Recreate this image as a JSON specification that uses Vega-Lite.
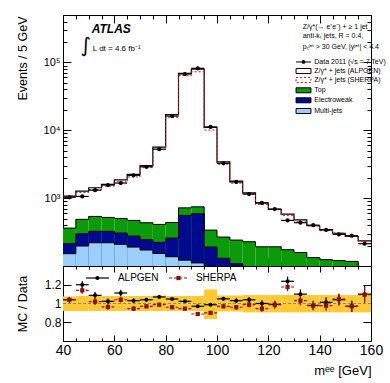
{
  "$schema": "https://vega.github.io/schema/vega-lite/v6.json",
  "padding": {"left": 15, "top": 14, "right": 0, "bottom": 0},
  "config": {
    "view": {"stroke": "black", "strokeWidth": 1},
    "font": "Liberation Sans",
    "axis": {"grid": false, "domain": false, "tickColor": "black", "tickWidth": 1, "labelColor": "black", "titleColor": "black", "labelFont": "Liberation Sans", "titleFont": "Liberation Sans", "titleFontWeight": "normal"}
  },
  "datasets": {
    "bins": [
      {"lo":40,"hi":45,"m":42.5,"data":1030,"alpgen":1071,"sherpa":1071,"multijet":152,"ew":213,"top":362,"rA":1.04,"eA":0.03,"rS":1.04,"eS":0.03,"bandLo":0.92,"bandHi":1.075},
      {"lo":45,"hi":50,"m":47.5,"data":1060,"alpgen":1272,"sherpa":1208,"multijet":197,"ew":298,"top":487,"rA":1.2,"eA":0.04,"rS":1.14,"eS":0.035,"bandLo":0.92,"bandHi":1.08},
      {"lo":50,"hi":55,"m":52.5,"data":1310,"alpgen":1424,"sherpa":1336,"multijet":220,"ew":324,"top":538,"rA":1.087,"eA":0.035,"rS":1.02,"eS":0.035,"bandLo":0.92,"bandHi":1.08},
      {"lo":55,"hi":60,"m":57.5,"data":1560,"alpgen":1596,"sherpa":1502,"multijet":220,"ew":324,"top":520,"rA":1.023,"eA":0.03,"rS":0.963,"eS":0.03,"bandLo":0.92,"bandHi":1.08},
      {"lo":60,"hi":65,"m":62.5,"data":1670,"alpgen":1857,"sherpa":1737,"multijet":209,"ew":306,"top":502,"rA":1.112,"eA":0.035,"rS":1.04,"eS":0.03,"bandLo":0.92,"bandHi":1.08},
      {"lo":65,"hi":70,"m":67.5,"data":2170,"alpgen":2235,"sherpa":2051,"multijet":190,"ew":276,"top":470,"rA":1.03,"eA":0.025,"rS":0.945,"eS":0.025,"bandLo":0.92,"bandHi":1.08},
      {"lo":70,"hi":75,"m":72.5,"data":2900,"alpgen":3016,"sherpa":2813,"multijet":172,"ew":244,"top":434,"rA":1.04,"eA":0.02,"rS":0.97,"eS":0.02,"bandLo":0.92,"bandHi":1.08},
      {"lo":75,"hi":80,"m":77.5,"data":5270,"alpgen":5639,"sherpa":5201,"multijet":153,"ew":223,"top":410,"rA":1.07,"eA":0.015,"rS":0.987,"eS":0.015,"bandLo":0.92,"bandHi":1.085},
      {"lo":80,"hi":85,"m":82.5,"data":16200,"alpgen":16978,"sherpa":15552,"multijet":137,"ew":258,"top":438,"rA":1.048,"eA":0.01,"rS":0.96,"eS":0.01,"bandLo":0.92,"bandHi":1.08},
      {"lo":85,"hi":90,"m":87.5,"data":67500,"alpgen":69053,"sherpa":63788,"multijet":122,"ew":556,"top":719,"rA":1.023,"eA":0.006,"rS":0.945,"eS":0.006,"bandLo":0.92,"bandHi":1.08},
      {"lo":90,"hi":95,"m":92.5,"data":82000,"alpgen":79540,"sherpa":72816,"multijet":111,"ew":588,"top":745,"rA":0.97,"eA":0.006,"rS":0.888,"eS":0.006,"bandLo":0.92,"bandHi":1.08},
      {"lo":95,"hi":100,"m":97.5,"data":11200,"alpgen":11054,"sherpa":10080,"multijet":99,"ew":190,"top":338,"rA":0.987,"eA":0.01,"rS":0.9,"eS":0.01,"bandLo":0.835,"bandHi":1.15},
      {"lo":100,"hi":105,"m":102.5,"data":3260,"alpgen":3423,"sherpa":3162,"multijet":80,"ew":130,"top":267,"rA":1.05,"eA":0.02,"rS":0.97,"eS":0.02,"bandLo":0.915,"bandHi":1.085},
      {"lo":105,"hi":110,"m":107.5,"data":1730,"alpgen":1782,"sherpa":1661,"multijet":70,"ew":108,"top":241,"rA":1.03,"eA":0.025,"rS":0.96,"eS":0.025,"bandLo":0.915,"bandHi":1.085},
      {"lo":110,"hi":115,"m":112.5,"data":1150,"alpgen":1196,"sherpa":1135,"multijet":60,"ew":92,"top":228,"rA":1.04,"eA":0.03,"rS":0.987,"eS":0.03,"bandLo":0.905,"bandHi":1.09},
      {"lo":115,"hi":120,"m":117.5,"data":850,"alpgen":850,"sherpa":803,"multijet":50,"ew":80,"top":192,"rA":1.0,"eA":0.035,"rS":0.945,"eS":0.035,"bandLo":0.905,"bandHi":1.09},
      {"lo":120,"hi":125,"m":122.5,"data":690,"alpgen":683,"sherpa":681,"multijet":45,"ew":70,"top":192,"rA":0.99,"eA":0.04,"rS":0.987,"eS":0.04,"bandLo":0.905,"bandHi":1.09},
      {"lo":125,"hi":130,"m":127.5,"data":470,"alpgen":581,"sherpa":553,"multijet":40,"ew":65,"top":174,"rA":1.237,"eA":0.05,"rS":1.176,"eS":0.045,"bandLo":0.905,"bandHi":1.09},
      {"lo":130,"hi":135,"m":132.5,"data":435,"alpgen":479,"sherpa":448,"multijet":35,"ew":60,"top":158,"rA":1.1,"eA":0.05,"rS":1.03,"eS":0.05,"bandLo":0.905,"bandHi":1.09},
      {"lo":135,"hi":140,"m":137.5,"data":400,"alpgen":392,"sherpa":391,"multijet":30,"ew":55,"top":133,"rA":0.98,"eA":0.05,"rS":0.977,"eS":0.05,"bandLo":0.905,"bandHi":1.09},
      {"lo":140,"hi":145,"m":142.5,"data":340,"alpgen":344,"sherpa":332,"multijet":28,"ew":50,"top":124,"rA":1.013,"eA":0.055,"rS":0.977,"eS":0.055,"bandLo":0.905,"bandHi":1.09},
      {"lo":145,"hi":150,"m":147.5,"data":292,"alpgen":304,"sherpa":306,"multijet":25,"ew":45,"top":120,"rA":1.04,"eA":0.06,"rS":1.048,"eS":0.06,"bandLo":0.905,"bandHi":1.09},
      {"lo":150,"hi":155,"m":152.5,"data":280,"alpgen":272,"sherpa":272,"multijet":22,"ew":40,"top":117,"rA":0.97,"eA":0.06,"rS":0.97,"eS":0.06,"bandLo":0.905,"bandHi":1.09},
      {"lo":155,"hi":160,"m":157.5,"data":213,"alpgen":234,"sherpa":233,"multijet":20,"ew":35,"top":95,"rA":1.1,"eA":0.09,"rS":1.094,"eS":0.08,"bandLo":0.905,"bandHi":1.09}
    ]
  },
  "data": {"name": "bins"},
  "spacing": 0,
  "bounds": "flush",
  "vconcat": [
    {
      "width": 308,
      "height": 251,
      "resolve": {"axis": {"x": "independent", "y": "independent"}},
      "layer": [
        {
          "mark": {"type": "rect", "clip": true, "fill": "#0a9a0a"},
          "encoding": {
            "x": {"field": "lo", "type": "quantitative", "scale": {"domain": [40, 160], "nice": false, "zero": false},
                  "axis": {"orient": "bottom", "values": [40,60,80,100,120,140,160], "labels": false, "domain": false, "tickSize": -8, "title": null}},
            "x2": {"field": "hi"},
            "y": {"field": "top", "type": "quantitative", "scale": {"type": "log", "domain": [100, 500000], "nice": false},
                  "axis": {"orient": "left", "values": [1000,10000,100000], "labelExpr": "datum.value == 1000 ? '10³' : datum.value == 10000 ? '10⁴' : '10⁵'", "ticks": false, "domain": false, "labelPadding": 3, "labelFontSize": 11, "title": "Events / 5 GeV", "titleX": -41, "titleY": 1, "titleAlign": "right", "titleAngle": 270, "titleBaseline": "middle", "titleFontSize": 12.5}},
            "y2": {"datum": 10}
          }
        },
        {
          "mark": {"type": "rect", "clip": true, "fill": "#000a8f"},
          "encoding": {
            "x": {"field": "lo", "type": "quantitative",
                  "axis": {"orient": "bottom", "values": [45,50,55,65,70,75,85,90,95,105,110,115,125,130,135,145,150,155], "labels": false, "domain": false, "tickSize": -4, "title": null}},
            "x2": {"field": "hi"},
            "y": {"field": "ew", "type": "quantitative",
                  "axis": {"orient": "left", "values": [1000,10000,100000], "labels": false, "domain": false, "tickSize": -8, "title": null}},
            "y2": {"datum": 10}
          }
        },
        {
          "mark": {"type": "rect", "clip": true, "fill": "#9ccffb"},
          "encoding": {
            "x": {"field": "lo", "type": "quantitative",
                  "axis": {"orient": "top", "values": [40,60,80,100,120,140,160], "labels": false, "domain": false, "tickSize": -8, "title": null}},
            "x2": {"field": "hi"},
            "y": {"field": "multijet", "type": "quantitative",
                  "axis": {"orient": "left", "values": [200,300,400,500,600,700,800,900,2000,3000,4000,5000,6000,7000,8000,9000,20000,30000,40000,50000,60000,70000,80000,90000,200000,300000,400000], "labels": false, "domain": false, "tickSize": -4, "title": null}},
            "y2": {"datum": 10}
          }
        },
        {
          "transform": [{"fold": ["lo", "hi"], "as": ["edge", "xe"]}],
          "mark": {"type": "line", "clip": true, "color": "black", "strokeWidth": 1},
          "encoding": {
            "x": {"field": "xe", "type": "quantitative",
                  "axis": {"orient": "top", "values": [45,50,55,65,70,75,85,90,95,105,110,115,125,130,135,145,150,155], "labels": false, "domain": false, "tickSize": -4, "title": null}},
            "y": {"field": "top", "type": "quantitative",
                  "axis": {"orient": "right", "values": [1000,10000,100000], "labels": false, "domain": false, "tickSize": -8, "title": null}},
            "order": [{"field": "xe", "type": "quantitative"}, {"field": "edge", "type": "nominal"}]
          }
        },
        {
          "transform": [{"fold": ["lo", "hi"], "as": ["edge", "xe"]}],
          "mark": {"type": "line", "clip": true, "color": "black", "strokeWidth": 1},
          "encoding": {
            "x": {"field": "xe", "type": "quantitative", "axis": null},
            "y": {"field": "ew", "type": "quantitative",
                  "axis": {"orient": "right", "values": [200,300,400,500,600,700,800,900,2000,3000,4000,5000,6000,7000,8000,9000,20000,30000,40000,50000,60000,70000,80000,90000,200000,300000,400000], "labels": false, "domain": false, "tickSize": -4, "title": null}},
            "order": [{"field": "xe", "type": "quantitative"}, {"field": "edge", "type": "nominal"}]
          }
        },
        {
          "transform": [{"fold": ["lo", "hi"], "as": ["edge", "xe"]}],
          "mark": {"type": "line", "clip": true, "color": "black", "strokeWidth": 1},
          "encoding": {
            "x": {"field": "xe", "type": "quantitative", "axis": null},
            "y": {"field": "multijet", "type": "quantitative", "axis": null},
            "order": [{"field": "xe", "type": "quantitative"}, {"field": "edge", "type": "nominal"}]
          }
        },
        {
          "transform": [{"fold": ["lo", "hi"], "as": ["edge", "xe"]}],
          "mark": {"type": "line", "clip": true, "color": "black", "strokeWidth": 1.2},
          "encoding": {
            "x": {"field": "xe", "type": "quantitative", "axis": null},
            "y": {"field": "alpgen", "type": "quantitative", "axis": null},
            "order": [{"field": "xe", "type": "quantitative"}, {"field": "edge", "type": "nominal"}]
          }
        },
        {
          "transform": [{"fold": ["lo", "hi"], "as": ["edge", "xe"]}],
          "mark": {"type": "line", "clip": true, "color": "#d01010", "strokeWidth": 1, "strokeDash": [2, 2]},
          "encoding": {
            "x": {"field": "xe", "type": "quantitative", "axis": null},
            "y": {"field": "sherpa", "type": "quantitative", "axis": null},
            "order": [{"field": "xe", "type": "quantitative"}, {"field": "edge", "type": "nominal"}]
          }
        },
        {
          "mark": {"type": "rule", "clip": true, "color": "black", "strokeWidth": 1.2},
          "encoding": {
            "x": {"field": "lo", "type": "quantitative", "axis": null},
            "x2": {"field": "hi"},
            "y": {"field": "data", "type": "quantitative", "axis": null}
          }
        },
        {
          "mark": {"type": "circle", "clip": true, "color": "black", "opacity": 1, "size": 18},
          "encoding": {
            "x": {"field": "m", "type": "quantitative", "axis": null},
            "y": {"field": "data", "type": "quantitative", "axis": null}
          }
        },
        {
          "data": {"values": [{}]},
          "mark": {"type": "text", "text": "ATLAS", "align": "left", "baseline": "middle", "fontSize": 12, "fontWeight": "bold", "fontStyle": "italic", "font": "Liberation Sans"},
          "encoding": {"x": {"datum": 51.18, "type": "quantitative", "axis": null}, "y": {"datum": 311000, "type": "quantitative", "axis": null}}
        },
        {
          "data": {"values": [{}]},
          "mark": {"type": "text", "text": "∫", "align": "center", "baseline": "middle", "fontSize": 20, "font": "DejaVu Sans"},
          "encoding": {"x": {"datum": 48.8, "type": "quantitative", "axis": null}, "y": {"datum": 174600, "type": "quantitative", "axis": null}}
        },
        {
          "data": {"values": [{}]},
          "mark": {"type": "text", "text": "L dt = 4.6 fb⁻¹", "align": "left", "baseline": "middle", "fontSize": 8, "font": "Liberation Sans"},
          "encoding": {"x": {"datum": 51.6, "type": "quantitative", "axis": null}, "y": {"datum": 157800, "type": "quantitative", "axis": null}}
        },
        {
          "data": {"values": [{}]},
          "mark": {"type": "text", "text": "Z/γ*(→ e⁺e⁻) + ≥ 1 jet", "align": "left", "baseline": "middle", "fontSize": 7, "font": "Liberation Sans"},
          "encoding": {"x": {"datum": 133.4, "type": "quantitative", "axis": null}, "y": {"datum": 338400, "type": "quantitative", "axis": null}}
        },
        {
          "data": {"values": [{}]},
          "mark": {"type": "text", "text": "anti-kₜ jets, R = 0.4,", "align": "left", "baseline": "middle", "fontSize": 7, "font": "Liberation Sans"},
          "encoding": {"x": {"datum": 133.4, "type": "quantitative", "axis": null}, "y": {"datum": 242700, "type": "quantitative", "axis": null}}
        },
        {
          "data": {"values": [{}]},
          "mark": {"type": "text", "text": "pₜʲᵉᵗ > 30 GeV, |yʲᵉᵗ| < 4.4", "align": "left", "baseline": "middle", "fontSize": 7, "font": "Liberation Sans"},
          "encoding": {"x": {"datum": 133.4, "type": "quantitative", "axis": null}, "y": {"datum": 170600, "type": "quantitative", "axis": null}}
        },
        {
          "data": {"values": [{}]},
          "mark": {"type": "rule", "color": "black", "strokeWidth": 1},
          "encoding": {"x": {"datum": 130.8, "type": "quantitative", "axis": null}, "x2": {"datum": 136.6}, "y": {"datum": 101500, "type": "quantitative", "axis": null}}
        },
        {
          "data": {"values": [{}]},
          "mark": {"type": "circle", "color": "black", "opacity": 1, "size": 14},
          "encoding": {"x": {"datum": 133.7, "type": "quantitative", "axis": null}, "y": {"datum": 101500, "type": "quantitative", "axis": null}}
        },
        {
          "data": {"values": [{}]},
          "mark": {"type": "rect", "fill": "white", "stroke": "black", "strokeWidth": 1},
          "encoding": {"x": {"datum": 130.8, "type": "quantitative", "axis": null}, "x2": {"datum": 136.6}, "y": {"datum": 81390, "type": "quantitative", "axis": null}, "y2": {"datum": 68700}}
        },
        {
          "data": {"values": [{}]},
          "mark": {"type": "rect", "fill": "white", "stroke": "#d01010", "strokeWidth": 1, "strokeDash": [2, 2]},
          "encoding": {"x": {"datum": 130.8, "type": "quantitative", "axis": null}, "x2": {"datum": 136.6}, "y": {"datum": 59980, "type": "quantitative", "axis": null}, "y2": {"datum": 50620}}
        },
        {
          "data": {"values": [{}]},
          "mark": {"type": "rect", "fill": "#0a9a0a", "stroke": "black", "strokeWidth": 1},
          "encoding": {"x": {"datum": 130.8, "type": "quantitative", "axis": null}, "x2": {"datum": 136.6}, "y": {"datum": 42290, "type": "quantitative", "axis": null}, "y2": {"datum": 35690}}
        },
        {
          "data": {"values": [{}]},
          "mark": {"type": "rect", "fill": "#000a8f", "stroke": "black", "strokeWidth": 1},
          "encoding": {"x": {"datum": 130.8, "type": "quantitative", "axis": null}, "x2": {"datum": 136.6}, "y": {"datum": 30130, "type": "quantitative", "axis": null}, "y2": {"datum": 25420}}
        },
        {
          "data": {"values": [{}]},
          "mark": {"type": "rect", "fill": "#9ccffb", "stroke": "black", "strokeWidth": 1},
          "encoding": {"x": {"datum": 130.8, "type": "quantitative", "axis": null}, "x2": {"datum": 136.6}, "y": {"datum": 20940, "type": "quantitative", "axis": null}, "y2": {"datum": 17680}}
        },
        {
          "data": {"values": [{}]},
          "mark": {"type": "text", "text": "Data 2011 (√s = 7 TeV)", "align": "left", "baseline": "middle", "fontSize": 7, "font": "Liberation Sans"},
          "encoding": {"x": {"datum": 137.9, "type": "quantitative", "axis": null}, "y": {"datum": 101500, "type": "quantitative", "axis": null}}
        },
        {
          "data": {"values": [{}]},
          "mark": {"type": "text", "text": "Z/γ* + jets (ALPGEN)", "align": "left", "baseline": "middle", "fontSize": 7, "font": "Liberation Sans"},
          "encoding": {"x": {"datum": 137.9, "type": "quantitative", "axis": null}, "y": {"datum": 74780, "type": "quantitative", "axis": null}}
        },
        {
          "data": {"values": [{}]},
          "mark": {"type": "text", "text": "Z/γ* + jets (SHERPA)", "align": "left", "baseline": "middle", "fontSize": 7, "font": "Liberation Sans"},
          "encoding": {"x": {"datum": 137.9, "type": "quantitative", "axis": null}, "y": {"datum": 55110, "type": "quantitative", "axis": null}}
        },
        {
          "data": {"values": [{}]},
          "mark": {"type": "text", "text": "Top", "align": "left", "baseline": "middle", "fontSize": 7, "font": "Liberation Sans"},
          "encoding": {"x": {"datum": 137.9, "type": "quantitative", "axis": null}, "y": {"datum": 38850, "type": "quantitative", "axis": null}}
        },
        {
          "data": {"values": [{}]},
          "mark": {"type": "text", "text": "Electroweak", "align": "left", "baseline": "middle", "fontSize": 7, "font": "Liberation Sans"},
          "encoding": {"x": {"datum": 137.9, "type": "quantitative", "axis": null}, "y": {"datum": 27670, "type": "quantitative", "axis": null}}
        },
        {
          "data": {"values": [{}]},
          "mark": {"type": "text", "text": "Multi-jets", "align": "left", "baseline": "middle", "fontSize": 7, "font": "Liberation Sans"},
          "encoding": {"x": {"datum": 137.9, "type": "quantitative", "axis": null}, "y": {"datum": 19250, "type": "quantitative", "axis": null}}
        }
      ]
    },
    {
      "width": 308,
      "height": 75,
      "resolve": {"axis": {"x": "independent", "y": "independent"}},
      "layer": [
        {
          "mark": {"type": "rect", "fill": "#fec932"},
          "encoding": {
            "x": {"field": "lo", "type": "quantitative", "scale": {"domain": [40, 160], "nice": false, "zero": false},
                  "axis": {"orient": "bottom", "values": [40,60,80,100,120,140,160], "ticks": false, "domain": false, "labelPadding": 2, "labelFontSize": 14, "labelFlush": false, "labelOverlap": false, "title": "mᵉᵉ [GeV]", "titleX": 308, "titleY": 33, "titleAlign": "right", "titleAnchor": "end", "titleBaseline": "alphabetic", "titleFontSize": 13}},
            "x2": {"field": "hi"},
            "y": {"field": "bandLo", "type": "quantitative", "scale": {"domain": [0.6, 1.4], "nice": false, "zero": false},
                  "axis": {"orient": "left", "values": [0.8, 1, 1.2], "format": "~g", "ticks": false, "domain": false, "labelPadding": 2, "labelFontSize": 12, "title": "MC / Data", "titleX": -41, "titleY": 37.5, "titleAlign": "center", "titleAngle": 270, "titleBaseline": "middle", "titleFontSize": 12.5}},
            "y2": {"field": "bandHi"}
          }
        },
        {
          "data": {"values": [{}]},
          "mark": {"type": "rule", "color": "#888888", "strokeWidth": 1, "strokeDash": [3, 2]},
          "encoding": {
            "y": {"datum": 1, "type": "quantitative",
                  "axis": {"orient": "left", "values": [0.8, 1, 1.2], "labels": false, "domain": false, "tickSize": -8, "title": null}}
          }
        },
        {
          "mark": {"type": "rule", "color": "black", "strokeWidth": 1.2},
          "encoding": {
            "x": {"field": "lo", "type": "quantitative",
                  "axis": {"orient": "bottom", "values": [40,60,80,100,120,140,160], "labels": false, "domain": false, "tickSize": -6, "title": null}},
            "x2": {"field": "hi"},
            "y": {"field": "rA", "type": "quantitative",
                  "axis": {"orient": "right", "values": [0.8, 1, 1.2], "labels": false, "domain": false, "tickSize": -8, "title": null}}
          }
        },
        {
          "mark": {"type": "errorbar", "ticks": false, "color": "black", "thickness": 1.2},
          "encoding": {
            "x": {"field": "m", "type": "quantitative", "axis": null},
            "y": {"field": "rA", "type": "quantitative", "axis": null},
            "yError": {"field": "eA"}
          }
        },
        {
          "mark": {"type": "circle", "color": "black", "opacity": 1, "size": 16},
          "encoding": {
            "x": {"field": "m", "type": "quantitative",
                  "axis": {"orient": "top", "values": [40,60,80,100,120,140,160], "labels": false, "domain": false, "tickSize": -6, "title": null}},
            "y": {"field": "rA", "type": "quantitative", "axis": null}
          }
        },
        {
          "mark": {"type": "rule", "color": "#8b1010", "strokeWidth": 1.2, "strokeDash": [3, 2]},
          "encoding": {
            "x": {"field": "lo", "type": "quantitative",
                  "axis": {"orient": "bottom", "values": [45,50,55,65,70,75,85,90,95,105,110,115,125,130,135,145,150,155], "labels": false, "domain": false, "tickSize": -3, "title": null}},
            "x2": {"field": "hi"},
            "y": {"field": "rS", "type": "quantitative", "axis": null}
          }
        },
        {
          "mark": {"type": "errorbar", "ticks": false, "color": "#8b1010", "thickness": 1.2},
          "encoding": {
            "x": {"field": "m", "type": "quantitative", "axis": null},
            "y": {"field": "rS", "type": "quantitative", "axis": null},
            "yError": {"field": "eS"}
          }
        },
        {
          "mark": {"type": "square", "color": "#8b1010", "opacity": 1, "size": 18},
          "encoding": {
            "x": {"field": "m", "type": "quantitative",
                  "axis": {"orient": "top", "values": [45,50,55,65,70,75,85,90,95,105,110,115,125,130,135,145,150,155], "labels": false, "domain": false, "tickSize": -3, "title": null}},
            "y": {"field": "rS", "type": "quantitative", "axis": null}
          }
        },
        {
          "data": {"values": [{}]},
          "mark": {"type": "rule", "color": "black", "strokeWidth": 1.2},
          "encoding": {"x": {"datum": 49.0, "type": "quantitative", "axis": null}, "x2": {"datum": 57.9}, "y": {"datum": 1.272, "type": "quantitative", "axis": null}}
        },
        {
          "data": {"values": [{}]},
          "mark": {"type": "circle", "color": "black", "opacity": 1, "size": 16},
          "encoding": {"x": {"datum": 53.4, "type": "quantitative", "axis": null}, "y": {"datum": 1.272, "type": "quantitative", "axis": null}}
        },
        {
          "data": {"values": [{}]},
          "mark": {"type": "text", "text": "ALPGEN", "align": "left", "baseline": "middle", "fontSize": 10, "font": "Liberation Sans"},
          "encoding": {"x": {"datum": 61.4, "type": "quantitative", "axis": null}, "y": {"datum": 1.272, "type": "quantitative", "axis": null}}
        },
        {
          "data": {"values": [{}]},
          "mark": {"type": "rule", "color": "#8b1010", "strokeWidth": 1.2, "strokeDash": [3, 2]},
          "encoding": {"x": {"datum": 81.3, "type": "quantitative", "axis": null}, "x2": {"datum": 88.7}, "y": {"datum": 1.272, "type": "quantitative", "axis": null}}
        },
        {
          "data": {"values": [{}]},
          "mark": {"type": "square", "color": "#8b1010", "opacity": 1, "size": 18},
          "encoding": {"x": {"datum": 85.0, "type": "quantitative", "axis": null}, "y": {"datum": 1.272, "type": "quantitative", "axis": null}}
        },
        {
          "data": {"values": [{}]},
          "mark": {"type": "text", "text": "SHERPA", "align": "left", "baseline": "middle", "fontSize": 10, "font": "Liberation Sans"},
          "encoding": {"x": {"datum": 91.8, "type": "quantitative", "axis": null}, "y": {"datum": 1.272, "type": "quantitative", "axis": null}}
        }
      ]
    }
  ]
}
